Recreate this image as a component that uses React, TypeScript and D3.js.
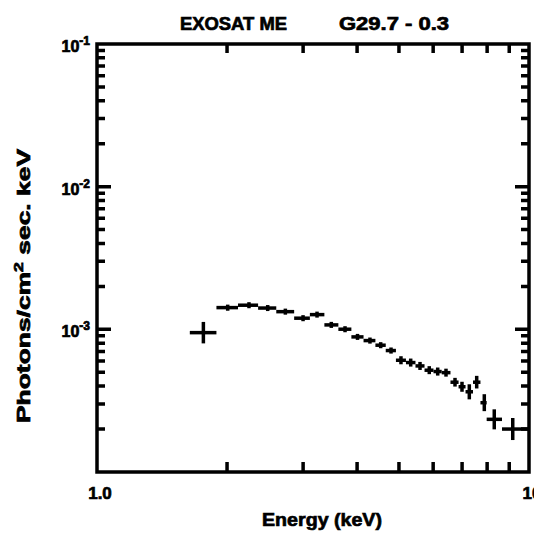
import React from "react";
import * as d3 from "d3";

const energy = [1.763, 2.007, 2.248, 2.484, 2.729, 2.999, 3.231, 3.486, 3.751, 4.009, 4.284, 4.536, 4.793, 5.054, 5.323, 5.594, 5.877, 6.147, 6.425, 6.741, 6.997, 7.275, 7.567, 7.88, 8.31, 9.17];
const energyLo = [1.64, 1.89, 2.12, 2.36, 2.6, 2.86, 3.11, 3.36, 3.62, 3.88, 4.14, 4.41, 4.66, 4.92, 5.19, 5.46, 5.73, 6.01, 6.28, 6.58, 6.87, 7.13, 7.42, 7.72, 7.98, 8.66];
const energyHi = [1.89, 2.12, 2.36, 2.6, 2.86, 3.11, 3.36, 3.62, 3.88, 4.14, 4.41, 4.66, 4.92, 5.19, 5.46, 5.73, 6.01, 6.28, 6.58, 6.87, 7.13, 7.42, 7.72, 7.98, 8.66, 10.0];
const flux = [9.48e-4, 1.42e-3, 1.476e-3, 1.41e-3, 1.33e-3, 1.197e-3, 1.268e-3, 1.074e-3, 1.002e-3, 8.85e-4, 8.34e-4, 7.74e-4, 7.1e-4, 6.07e-4, 5.85e-4, 5.54e-4, 5.17e-4, 5.06e-4, 4.97e-4, 4.26e-4, 3.96e-4, 3.65e-4, 4.26e-4, 3.06e-4, 2.34e-4, 2.0e-4];
const fluxHi = [1.127e-3, 1.49e-3, 1.55e-3, 1.48e-3, 1.397e-3, 1.257e-3, 1.331e-3, 1.128e-3, 1.052e-3, 9.29e-4, 8.76e-4, 8.13e-4, 7.46e-4, 6.48e-4, 6.24e-4, 5.91e-4, 5.52e-4, 5.4e-4, 5.3e-4, 4.57e-4, 4.29e-4, 4.12e-4, 4.72e-4, 3.51e-4, 2.75e-4, 2.39e-4];
const fluxLo = [7.97e-4, 1.35e-3, 1.406e-3, 1.343e-3, 1.267e-3, 1.14e-3, 1.208e-3, 1.023e-3, 9.54e-4, 8.43e-4, 7.94e-4, 7.37e-4, 6.76e-4, 5.69e-4, 5.48e-4, 5.19e-4, 4.85e-4, 4.74e-4, 4.66e-4, 3.97e-4, 3.65e-4, 3.23e-4, 3.85e-4, 2.67e-4, 1.99e-4, 1.675e-4];

const xMinorTicks = [2, 3, 4, 5, 6, 7, 8, 9];
const yMajorTicks = [1e-3, 1e-2];
const yDecades = [1e-4, 1e-3, 1e-2];
const yMultipliers = [2, 3, 4, 5, 6, 7, 8, 9];
const yLabels = [
  { v: 1e-1, exp: "-1" },
  { v: 1e-2, exp: "-2" },
  { v: 1e-3, exp: "-3" },
];
const xLabels = [
  { v: 1, t: "1.0" },
  { v: 10, t: "10" },
];
const titleLeft = "EXOSAT ME";
const titleRight = "G29.7 - 0.3";
const xTitle = "Energy (keV)";

const FONT = "'Liberation Sans', Arial, sans-serif";
const heavy = { stroke: "#000", strokeWidth: 0.7 } as const;

export default function App() {
  const L = 97, R = 529, T = 44, B = 472;
  const x = d3.scaleLog().domain([1, 10]).range([L, R]);
  const y = d3.scaleLog().domain([1e-4, 1e-1]).range([B, T]);

  const yMinor: number[] = [];
  yDecades.forEach((d) => {
    yMultipliers.forEach((k) => yMinor.push(d * k));
  });

  let tickPath = "";
  xMinorTicks.forEach((v) => {
    const px = x(v);
    tickPath += `M${px},${B}V${B - 10}M${px},${T}V${T + 9}`;
  });
  yMinor.forEach((v) => {
    const py = y(v);
    tickPath += `M${L},${py}H${L + 8}M${R},${py}H${R - 8}`;
  });
  yMajorTicks.forEach((v) => {
    const py = y(v);
    tickPath += `M${L},${py}H${L + 14}M${R},${py}H${R - 14}`;
  });

  return (
    <svg width={534} height={534} style={{ position: "absolute", left: 0, top: 0, background: "#fff" }}>
      <rect x={0} y={0} width={534} height={534} fill="#fff" />
      <text x={180} y={30} fontFamily={FONT} fontWeight="bold" fontSize={18} textLength={107} lengthAdjust="spacingAndGlyphs" {...heavy}>{titleLeft}</text>
      <text x={339} y={30} fontFamily={FONT} fontWeight="bold" fontSize={18} textLength={110} lengthAdjust="spacingAndGlyphs" {...heavy}>{titleRight}</text>

      <rect x={L} y={T} width={R - L} height={B - T} fill="none" stroke="#000" strokeWidth={3.5} />

      <path d={tickPath} fill="none" stroke="#000" strokeWidth={3.5} />

      {yLabels.map((l) => (
        <text key={l.exp} x={90} y={y(l.v) + 8} textAnchor="end" fontFamily={FONT} fontWeight="bold" fontSize={16} {...heavy}>
          10<tspan dy={-7} fontSize={12}>{l.exp}</tspan>
        </text>
      ))}
      {xLabels.map((l) => (
        <text key={l.t} x={x(l.v) + 3} y={499} textAnchor="middle" fontFamily={FONT} fontWeight="bold" fontSize={17} {...heavy}>{l.t}</text>
      ))}
      <text x={322} y={526} textAnchor="middle" fontFamily={FONT} fontWeight="bold" fontSize={19} textLength={120} lengthAdjust="spacingAndGlyphs" {...heavy}>{xTitle}</text>
      <text transform={`translate(30,286) rotate(-90)`} textAnchor="middle" fontFamily={FONT} fontWeight="bold" fontSize={18} textLength={274} lengthAdjust="spacingAndGlyphs" {...heavy}>
        Photons/cm<tspan dy={-7} fontSize={12}>2</tspan><tspan dy={7}> sec. keV</tspan>
      </text>

      <g stroke="#000" strokeWidth={3.5} strokeLinecap="butt">
        {energy.map((e, i) => (
          <g key={"p" + i}>
            <line x1={x(energyLo[i])} x2={Math.min(x(energyHi[i]), R)} y1={y(flux[i])} y2={y(flux[i])} />
            <line x1={x(e)} x2={x(e)} y1={y(fluxHi[i])} y2={y(fluxLo[i])} />
          </g>
        ))}
      </g>
    </svg>
  );
}
